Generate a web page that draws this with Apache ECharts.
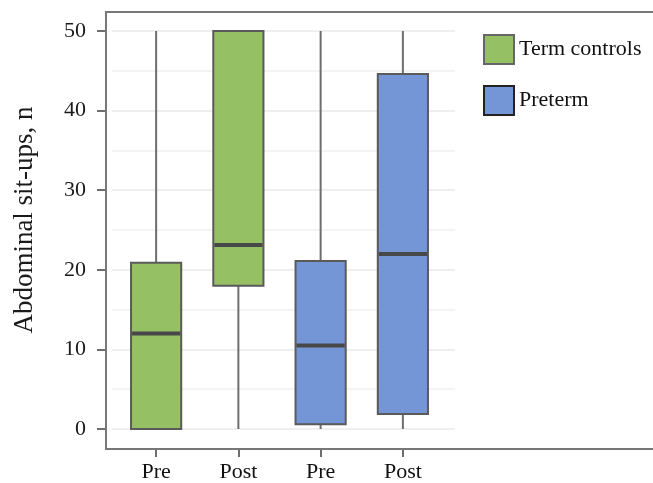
<!DOCTYPE html>
<html>
<head>
<meta charset="utf-8">
<script src="https://cdn.jsdelivr.net/npm/echarts@6/dist/echarts.min.js"></script>
<style>
  html, body { margin: 0; padding: 0; background: #ffffff; }
  #chart { width: 653px; height: 483px; }
</style>
</head>
<body>
<div id="chart"></div>
<script>
// Sit-up counts before and after, per group: [categoryIndex, min, Q1, median, Q3, max]
const categories = ['Pre', 'Post', 'Pre', 'Post'];
const termControls = [
  [0, 0, 0, 12, 20.9, 50],
  [1, 0, 18, 23.1, 50, 50]
];
const preterm = [
  [2, 0, 0.6, 10.5, 21.1, 50],
  [3, 0, 1.9, 22, 44.6, 50]
];
const yTicks = [0, 10, 20, 30, 40, 50];

const FONT = '"Liberation Serif", "Times New Roman", serif';
const GREEN = '#96c064';
const BLUE = '#7596d6';
const TICK = { color: '#6e6e6e', width: 2 };

// Box without whisker caps, with a heavy median bar
function renderBox(params, api) {
  const x = api.value(0);
  const lo = api.coord([x, api.value(1)]);
  const q1 = api.coord([x, api.value(2)]);
  const md = api.coord([x, api.value(3)]);
  const q3 = api.coord([x, api.value(4)]);
  const hi = api.coord([x, api.value(5)]);
  const w = api.size([1, 0])[0] * 0.61;
  const cx = md[0];
  const whisker = { stroke: '#6e6e6e', lineWidth: 2 };
  return {
    type: 'group',
    children: [
      { type: 'line', shape: { x1: cx, y1: hi[1], x2: cx, y2: q3[1] }, style: whisker },
      { type: 'line', shape: { x1: cx, y1: q1[1], x2: cx, y2: lo[1] }, style: whisker },
      { type: 'rect', shape: { x: cx - w / 2, y: q3[1], width: w, height: q1[1] - q3[1] },
        style: { fill: api.visual('color'), stroke: '#5a5a5a', lineWidth: 2 } },
      { type: 'line', shape: { x1: cx - w / 2 + 1, y1: md[1], x2: cx + w / 2 - 1, y2: md[1] },
        style: { stroke: '#484848', lineWidth: 4 } }
    ]
  };
}

const chart = echarts.init(document.getElementById('chart'), null, { renderer: 'canvas' });

chart.setOption({
  animation: false,
  backgroundColor: '#ffffff',
  grid: [
    // plotting area for the boxes
    { left: 115, right: 209, top: 31, bottom: 54 },
    // background grid lines, a little wider than the boxes' band
    { left: 112, right: 198, top: 31, bottom: 54 },
    // category ticks and labels along the bottom frame edge
    { left: 115, right: 209, top: 31, bottom: 34 }
  ],
  xAxis: [
    { type: 'category', gridIndex: 0, data: categories, show: false },
    { type: 'value', gridIndex: 1, show: false, min: 0, max: 1 },
    {
      type: 'category', gridIndex: 2, data: categories,
      axisLine: { show: false },
      axisTick: { show: true, alignWithLabel: true, length: 8, lineStyle: TICK },
      axisLabel: { color: '#111', fontFamily: FONT, fontSize: 22, margin: 12 }
    }
  ],
  yAxis: [
    {
      type: 'value', gridIndex: 0, min: 0, max: 50, interval: 10, offset: 9,
      axisLine: { show: false },
      axisTick: { show: true, length: 9, lineStyle: TICK },
      axisLabel: {
        color: '#1a1a1a', fontFamily: FONT, fontSize: 22, margin: 20,
        customValues: yTicks
      },
      splitLine: { show: false }
    },
    {
      type: 'value', gridIndex: 1, min: 0, max: 50, interval: 10,
      axisLine: { show: false }, axisTick: { show: false }, axisLabel: { show: false },
      splitLine: { show: true, lineStyle: { color: '#efefef', width: 2 } },
      minorTick: { show: false, splitNumber: 2 },
      minorSplitLine: { show: true, lineStyle: { color: '#f4f4f4', width: 2 } }
    },
    { type: 'value', gridIndex: 2, show: false, min: 0, max: 1 }
  ],
  legend: {
    orient: 'vertical', left: 483, top: 34, padding: 0,
    itemWidth: 30, itemHeight: 29, itemGap: 20, icon: 'rect',
    textStyle: { color: '#111', fontFamily: FONT, fontSize: 22 },
    data: [
      { name: 'Term controls', itemStyle: { color: GREEN, borderColor: '#666', borderWidth: 2 } },
      { name: 'Preterm', itemStyle: { color: BLUE, borderColor: '#222', borderWidth: 2 } }
    ]
  },
  graphic: [
    {
      type: 'rect', silent: true, z: 100,
      shape: { x: 106, y: 12, width: 700, height: 437 },
      style: { fill: 'none', stroke: '#777', lineWidth: 2 }
    },
    {
      type: 'text', x: 25, y: 220, rotation: Math.PI / 2,
      style: {
        text: 'Abdominal sit-ups, n', font: '27px ' + FONT, fill: '#1a1a1a',
        align: 'center', verticalAlign: 'middle'
      }
    }
  ],
  series: [
    {
      name: 'Term controls', type: 'custom', xAxisIndex: 0, yAxisIndex: 0,
      itemStyle: { color: GREEN },
      encode: { x: 0, y: [1, 2, 3, 4, 5] },
      renderItem: renderBox, data: termControls
    },
    {
      name: 'Preterm', type: 'custom', xAxisIndex: 0, yAxisIndex: 0,
      itemStyle: { color: BLUE },
      encode: { x: 0, y: [1, 2, 3, 4, 5] },
      renderItem: renderBox, data: preterm
    }
  ]
});
</script>
</body>
</html>
